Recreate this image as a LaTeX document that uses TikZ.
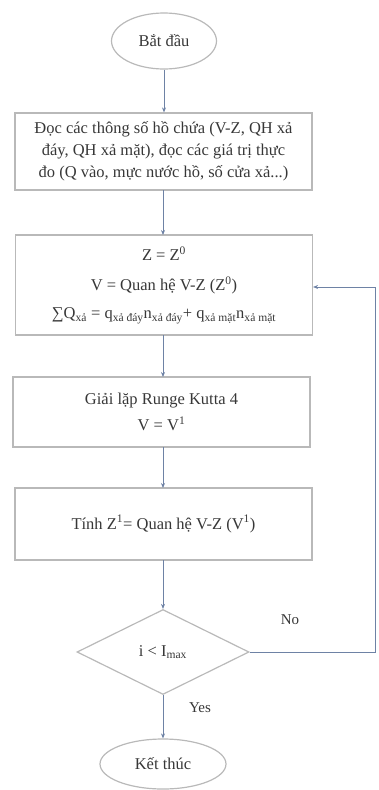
\documentclass[tikz,border=0pt]{standalone}
\usepackage{fontspec}
\setmainfont{Liberation Serif}
\usetikzlibrary{arrows.meta,shapes.geometric}
\definecolor{boxline}{RGB}{185,185,185}
\definecolor{conn}{RGB}{110,130,165}
\definecolor{txt}{RGB}{55,55,55}
\tikzset{
  every node/.style={text=txt,font=\fontsize{16.5}{22}\selectfont},
  procbox/.style={draw=boxline,line width=1.2pt,rectangle,minimum width=297pt,align=center,inner sep=0pt},
  terminal/.style={draw=boxline,line width=1.2pt,ellipse,inner sep=0pt},
  decision/.style={draw=boxline,line width=1.2pt,diamond,minimum width=172pt,minimum height=85pt,inner sep=0pt},
  conn/.style={draw=conn,line width=0.9pt,-{Stealth[length=5pt,width=4pt]}},
  lbl/.style={font=\fontsize{15}{17}\selectfont}
}
\begin{document}
\begin{tikzpicture}[x=1pt,y=1pt]
\useasboundingbox (0,0) rectangle (378,-790);
\node[terminal,minimum width=105pt,minimum height=56pt] (start) at (164,-41) {Bắt đầu};
\node[procbox,minimum height=77pt] (read) at (163.5,-151.5) {Đọc các thông số hồ chứa (V-Z, QH xả\\đáy, QH xả mặt), đọc các giá trị thực\\đo (Q vào, mực nước hồ, số cửa xả...)};
\node[procbox,minimum height=100pt] (init) at (164,-285) {Z = Z\textsuperscript{0}\\[8pt]V = Quan hệ V-Z (Z\textsuperscript{0})\\[6pt]∑Q\textsubscript{xả} = q\textsubscript{xả đáy}n\textsubscript{xả đáy}+ q\textsubscript{xả mặt}n\textsubscript{xả mặt}};
\node[procbox,minimum height=70pt] (rk) at (161.5,-412) {Giải lặp Runge Kutta 4\\[4pt]V = V\textsuperscript{1}};
\node[procbox,minimum height=72pt] (calc) at (163.5,-524) {Tính Z\textsuperscript{1}= Quan hệ V-Z (V\textsuperscript{1})};
\node[decision] (dec) at (163,-652) {i \textless{} I\textsubscript{max}};
\node[terminal,minimum width=126pt,minimum height=50pt] (end) at (163,-764) {Kết thúc};
\coordinate (c1) at (375,-652);
\coordinate (c2) at (375,-287);
\draw[conn] (start.south) -- (start.south |- read.north);
\draw[conn] (163,-190) -- (163,-235);
\draw[conn] (163,-335) -- (163,-377);
\draw[conn] (163,-447) -- (163,-488);
\draw[conn] (163,-560) -- (dec.north);
\draw[conn] (dec.south) -- (end.north);
\draw[conn] (dec.east) -- (c1) -- (c2) -- (init.east |- c2);
\node[lbl] (no) at (290,-620) {No};
\node[lbl] (yes) at (200,-708) {Yes};
\end{tikzpicture}
\end{document}
